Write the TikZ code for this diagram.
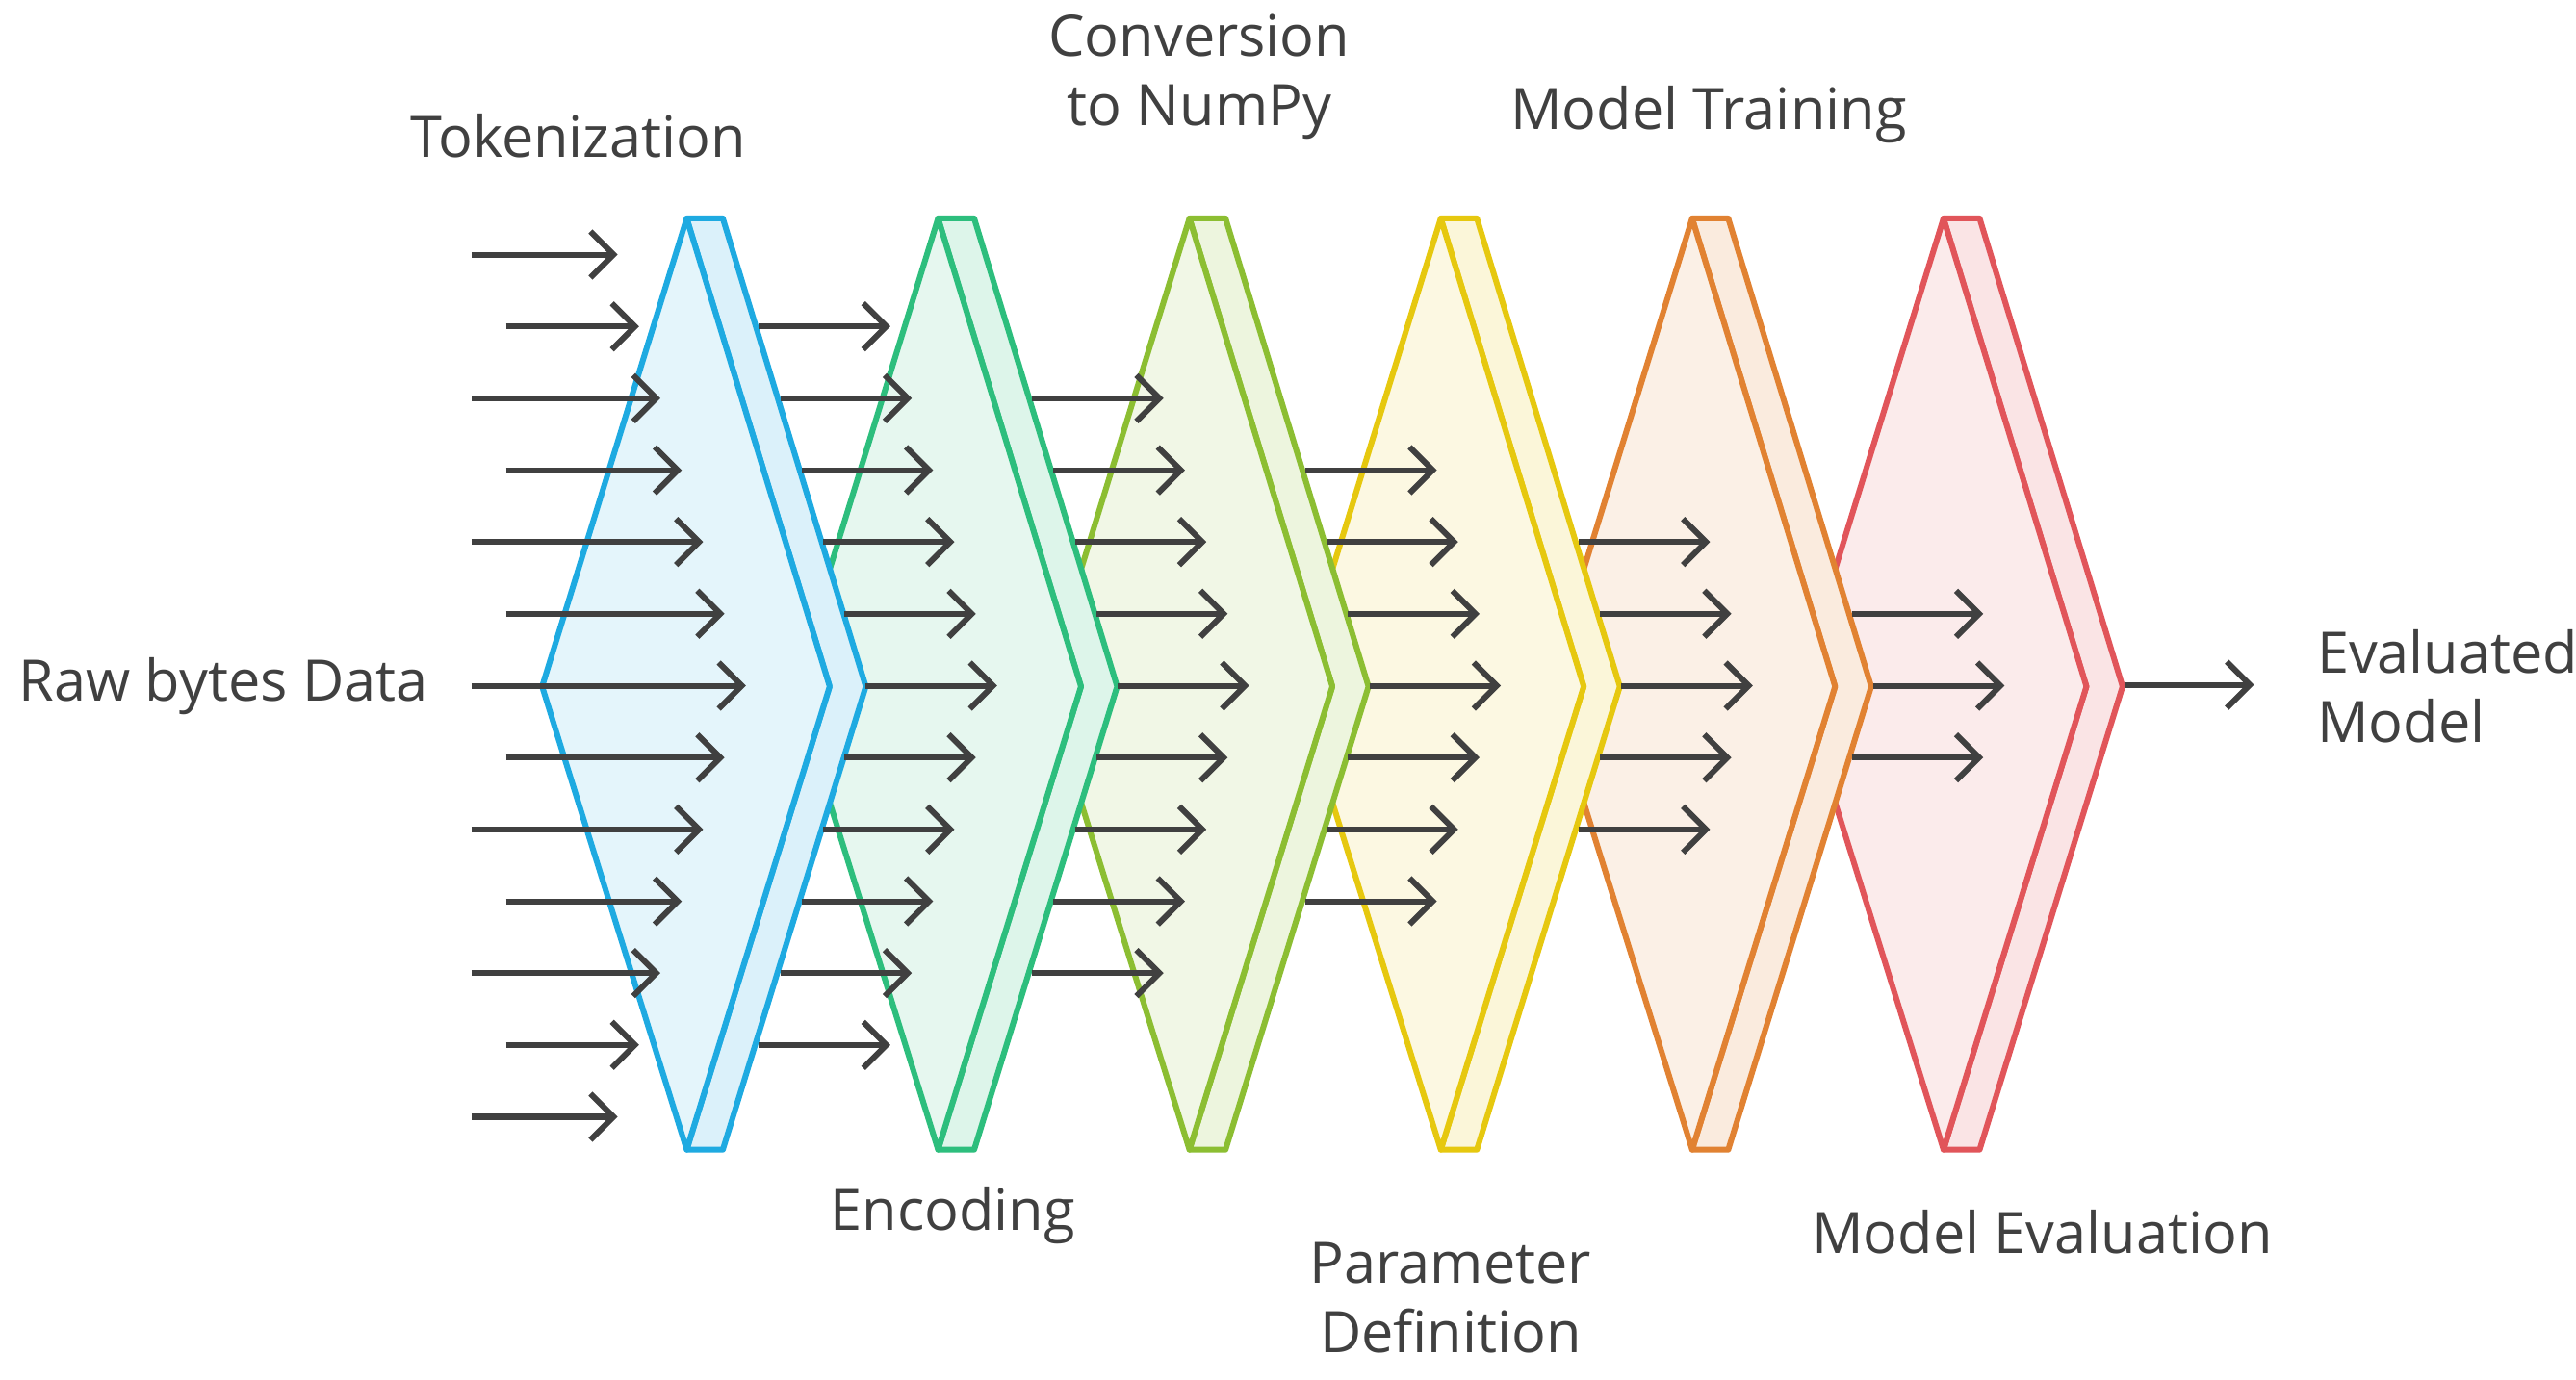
\documentclass[tikz,border=0pt]{standalone}
\usepackage{fontspec}
\setmainfont{Open Sans}
\usetikzlibrary{arrows.meta}
\definecolor{ink}{RGB}{64,64,64}
\definecolor{stA}{RGB}{30,170,225}
\definecolor{stB}{RGB}{45,190,125}
\definecolor{stC}{RGB}{140,190,50}
\definecolor{stD}{RGB}{230,200,15}
\definecolor{stE}{RGB}{225,130,50}
\definecolor{stF}{RGB}{225,85,90}
\begin{document}
\begin{tikzpicture}[x=0.01cm,y=-0.01cm,
  flow/.style={draw=ink,line width=1pt,-{Straight Barb[length=4pt,width=8pt]}},
  label/.style={text=ink,font=\fontsize{9.9}{12}\selectfont,align=center}]
  \useasboundingbox (0,0) rectangle (1568,840);

  % Stages, drawn back to front
  \foreach \k/\c in {5/stF,4/stE,3/stD,2/stC,1/stB,0/stA}{
    \pgfmathsetmacro{\a}{418+153*\k}
    \draw[\c,fill=\c!16,line width=1pt,line join=round]
      (\a,133) -- (\a+22,133) -- (\a+109,418) -- (\a+22,700) -- (\a,700) -- (\a+87,418) -- cycle;
    \draw[\c,fill=\c!12,line width=1pt,line join=round]
      (\a,133) -- (\a+87,418) -- (\a,700) -- (\a-88,418) -- cycle;
  }

  % Incoming arrows
  \foreach \r in {0,...,12}{
    \pgfmathsetmacro{\d}{abs(\r-6)}
    \pgfmathsetmacro{\s}{isodd(\r) ? 308 : 287}
    \draw[flow] (\s,155+43.75*\r) -- (454-13*\d,155+43.75*\r);
  }
  % Arrows between stages
  \foreach \k in {2,...,6}{
    \pgfmathtruncatemacro{\lo}{\k-1}
    \pgfmathtruncatemacro{\hi}{13-\k}
    \foreach \r in {\lo,...,\hi}{
      \pgfmathsetmacro{\d}{abs(\r-6)}
      \pgfmathsetmacro{\s}{527+153.3*(\k-2)-13*\d}
      \draw[flow] (\s,155+43.75*\r) -- (\s+80,155+43.75*\r);
    }
  }
  \coordinate (out0) at (1293,417);
  \coordinate (out1) at (1372,417);
  \draw[flow] (out0) -- (out1);

  % Labels
  \node[label] (raw) at (136,418) {Raw bytes Data};
  \node[label] (tok) at (352,83) {Tokenization};
  \node[label] (enc) at (580,740) {Encoding};
  \node[label] (conv) at (730,47) {Conversion\\to NumPy};
  \node[label] (par) at (883,790) {Parameter\\Definition};
  \node[label] (train) at (1040,70) {Model Training};
  \node[label] (eval) at (1243,750) {Model Evaluation};
  \node[label,anchor=west,align=left] (res) at (1398,418) {Evaluated\\Model};
\end{tikzpicture}
\end{document}
